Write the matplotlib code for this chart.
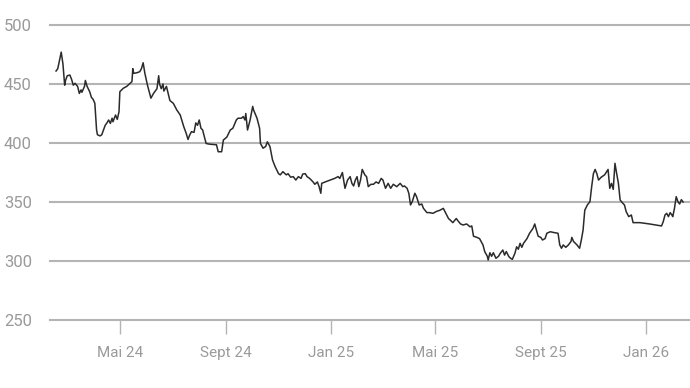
import matplotlib
matplotlib.use("Agg")
import matplotlib.pyplot as plt
import matplotlib.dates as mdates
import pandas as pd

# days since the first quote, and the price
start = "2024-02-17"
days = [0, 2, 6, 8, 10, 11, 13, 16, 18, 20, 22, 25, 27, 29, 30, 33, 34, 36, 39, 41,
        43, 45, 47, 48, 51, 53, 55, 57, 59, 61, 63, 65, 66, 69, 71, 73, 74, 78, 82, 86,
        88, 89, 90, 94, 97, 99, 101, 103, 106, 110, 113, 117, 119, 120, 122, 124, 125, 128, 132, 136,
        140, 144, 148, 151, 153, 155, 157, 160, 162, 164, 166, 168, 170, 171, 174, 178, 186, 188, 192, 194,
        198, 202, 205, 209, 211, 215, 217, 219, 220, 222, 225, 228, 229, 233, 236, 237, 240, 243, 245, 248,
        251, 254, 258, 260, 263, 267, 269, 272, 275, 278, 281, 284, 286, 289, 291, 294, 298, 300, 303, 305,
        307, 308, 312, 318, 323, 327, 329, 332, 335, 338, 341, 343, 345, 347, 349, 351, 353, 355, 358, 360,
        362, 365, 368, 371, 374, 377, 379, 382, 385, 388, 391, 395, 399, 402, 404, 407, 409, 411, 413, 416,
        418, 421, 424, 426, 430, 433, 437, 441, 445, 449, 451, 455, 457, 460, 464, 466, 469, 472, 476, 480,
        482, 484, 488, 491, 495, 497, 500, 501, 503, 505, 507, 510, 513, 515, 518, 520, 522, 525, 527, 529,
        532, 534, 536, 538, 540, 542, 546, 549, 553, 555, 557, 559, 562, 564, 567, 569, 573, 578, 582, 584,
        586, 588, 591, 594, 597, 598, 600, 604, 607, 609, 611, 613, 616, 619, 621, 623, 625, 627, 629, 632,
        636, 640, 642, 644, 646, 648, 650, 652, 654, 657, 659, 661, 664, 667, 669, 677, 688, 702, 704, 706,
        708, 710, 712, 714, 715, 717, 719, 721, 723, 725, 727]
price = [461, 463, 477, 467, 449, 453, 457, 457.6, 454, 449, 450.6, 448, 442, 445, 443, 448, 453, 448, 443.5, 438.7,
         437, 433.6, 411, 407, 406, 407, 411, 415, 417, 419.5, 416.6, 421, 418, 423.7, 420, 426.5, 443.5, 446.4, 448, 450.6,
         452, 463, 459, 459.6, 460.4, 463, 468, 459, 449, 438, 442, 446, 457, 450, 446, 450, 444, 448, 436, 433.6,
         428, 423.7, 414, 408, 403, 406.8, 409.6, 409, 417, 415, 419.5, 412.5, 411, 408, 399.6, 399, 398.5, 392.6, 392.6, 402.5,
         405, 411, 412.5, 419.5, 421, 421, 422.4, 419.5, 425, 411, 419.5, 431, 428, 421, 412.5, 399.6, 395.6, 397, 401, 397,
         385.6, 380, 374, 373, 375.7, 373, 374, 371, 371.5, 368.6, 371.5, 370, 373.7, 374, 371.5, 370, 367, 365, 367, 363,
         357.4, 365.8, 367, 368.6, 370, 371.5, 370, 375, 361.6, 368.6, 371.5, 365.8, 363.6, 368.6, 371.5, 363, 368.6, 377.6, 373, 371.5,
         363, 365, 365, 367, 365.8, 370, 368.6, 361.6, 365.8, 361.6, 365, 363, 365.8, 363, 363.6, 361.6, 357.4, 347.5, 350.3, 357.4,
         354.5, 347.5, 348.3, 344.6, 341, 341, 340.4, 342, 343, 344.6, 341.8, 336, 334.7, 332.5, 336, 334, 331.4, 330.5, 331.4, 329,
         329.7, 321, 320, 319, 313.6, 308, 304, 300.8, 307, 304, 307, 302.3, 304, 306.5, 309.3, 305, 308, 303.7, 302.3, 301.4,
         306.5, 312, 310, 315, 311.6, 315, 319, 323.5, 327.7, 331.4, 326, 321, 320, 317.8, 319, 323.5, 324.8, 324, 323.5, 313.6,
         310.8, 313.6, 311.6, 313.6, 316.5, 320, 316.5, 313.6, 310.8, 317.8, 326, 343, 347.5, 350.3, 363, 374, 377.6, 374, 368.6, 371,
         373, 377.6, 361.6, 365.8, 360.7, 382.8, 374, 365.8, 351.7, 349, 347.5, 341.8, 337.6, 339, 332.5, 332.5, 331.4, 329.7, 333.4, 339,
         340.4, 337.6, 341, 339, 337.6, 344.6, 354.5, 350.3, 348.3, 352, 350]

tick_dates = ["2024-05-01", "2024-09-01", "2025-01-01", "2025-05-01", "2025-09-01", "2026-01-01"]
tick_labels = ["Mai 24", "Sept 24", "Jan 25", "Mai 25", "Sept 25", "Jan 26"]
y_ticks = [250, 300, 350, 400, 450, 500]

dates = pd.Timestamp(start) + pd.to_timedelta(days, unit="D")

plt.rcParams["font.family"] = ["Roboto", "DejaVu Sans"]

fig = plt.figure(figsize=(6.9, 3.88), dpi=100)
ax = fig.add_axes([50 / 690, 68 / 388, 640 / 690, 295 / 388])

for y in y_ticks:
    ax.axhline(y, color="#b4b4b4", linewidth=1.5, zorder=1, clip_on=False)

ax.plot(dates, price, color="#2b2b2b", linewidth=1.1, zorder=3)

ax.set_ylim(250, 500)
ax.set_xlim(pd.Timestamp("2024-02-10"), pd.Timestamp("2026-02-21"))
ax.set_yticks(y_ticks)
ax.set_xticks(pd.to_datetime(tick_dates))
ax.set_xticklabels(tick_labels)

for side in ax.spines.values():
    side.set_visible(False)

ax.tick_params(axis="y", length=0, pad=13, labelsize=12, labelcolor="#9a9a9a")
ax.tick_params(axis="x", length=10, width=1, color="#b4b4b4", pad=9,
               labelsize=11, labelcolor="#9a9a9a")

fig.savefig("out.png", dpi=100)
